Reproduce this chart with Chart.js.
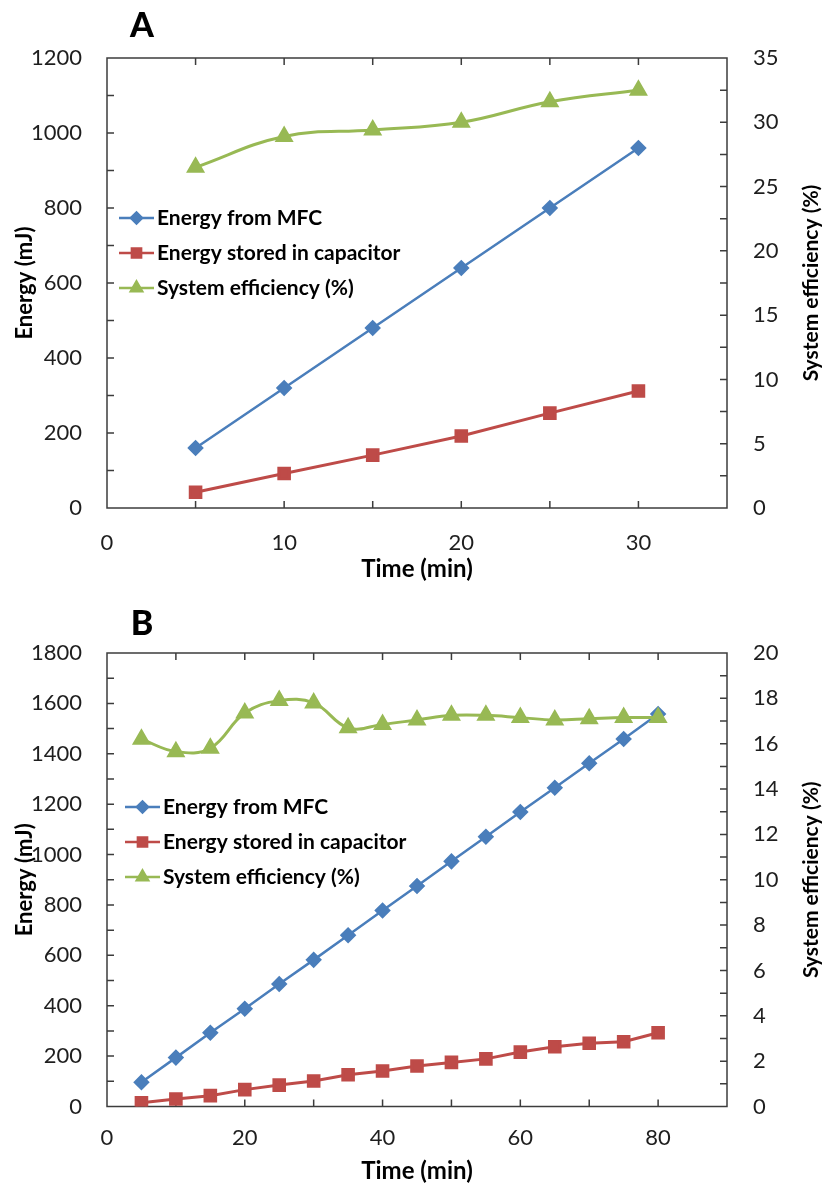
<!DOCTYPE html>
<html>
<head>
<meta charset="utf-8">
<script src="https://cdn.jsdelivr.net/npm/chart.js@4/dist/chart.umd.min.js"></script>
<style>
  html, body { margin: 0; padding: 0; background: #fff; }
  #wrap { position: relative; width: 825px; height: 1188px; overflow: hidden; }
  .panel { position: absolute; left: 0; width: 825px; height: 594px; }
  .panel canvas { display: block; }
  .tag { position: absolute; font: 900 34px Lato, "Liberation Sans", sans-serif; color: #000;
         transform: translate(-50%, -50%); line-height: 1; }
</style>
</head>
<body>
<div id="wrap">
  <div class="panel" style="top:0"><canvas id="chartA" width="825" height="594"></canvas></div>
  <div class="panel" style="top:594px"><canvas id="chartB" width="825" height="594"></canvas></div>
  <div class="tag" style="left:142px;top:24px">A</div>
  <div class="tag" style="left:142px;top:622px">B</div>
</div>
<script>
// ---- Series names ----
const seriesNames = ['Energy from MFC', 'Energy stored in capacitor', 'System efficiency (%)'];

// ---- Panel A: 0-30 min run ----
const timeA = [5, 10, 15, 20, 25, 30];
const mfcA  = [160, 320, 480, 640, 800, 960];
const capA  = [42, 92, 141, 192, 253, 312];
const effA  = [26.5, 28.9, 29.4, 30.0, 31.6, 32.5];

// ---- Panel B: 0-80 min run ----
const timeB = [5, 10, 15, 20, 25, 30, 35, 40, 45, 50, 55, 60, 65, 70, 75, 80];
const mfcB  = [96, 194, 293, 388, 486, 582, 680, 778, 875, 973, 1071, 1169, 1265, 1362, 1459, 1558];
const capB  = [15, 30, 43, 67, 85, 101, 126, 141, 161, 175, 189, 216, 237, 251, 257, 293];
const effB  = [16.2, 15.65, 15.8, 17.35, 17.9, 17.8, 16.7, 16.85, 17.05, 17.25, 17.25, 17.15, 17.05, 17.1, 17.15, 17.15];

// ---- Axis ranges / tick steps ----
const axisA = { xMax: 35, xLabelStep: 10, xMarkStep: 5,  yMax: 1200, yLabelStep: 200, yMarkStep: 100, rMax: 35, rLabelStep: 5, rMarkStep: 2.5 };
const axisB = { xMax: 90, xLabelStep: 20, xMarkStep: 10, yMax: 1800, yLabelStep: 200, yMarkStep: 100, rMax: 20, rLabelStep: 2, rMarkStep: 1 };

const BLUE = '#4A7EBB', RED = '#BE4B48', GREEN = '#98B954';
const AXIS_COLOR = '#3c3c3c', TEXT = '#1e1e1e';
const FONT = 'Lato, "Open Sans", "Liberation Sans", sans-serif';
Chart.defaults.font.family = FONT;
Chart.defaults.color = TEXT;

const pts = (xs, ys) => xs.map((x, i) => ({ x, y: ys[i] }));

// Plot frame with short tick marks pointing into the plot on all four sides
const frameTicks = {
  id: 'frameTicks',
  beforeDatasetsDraw(chart, args, o) {
    const { ctx, chartArea: a, scales } = chart;
    const len = 7;
    ctx.save();
    ctx.strokeStyle = AXIS_COLOR;
    ctx.lineWidth = 1.5;
    ctx.beginPath();
    for (let v = o.xMarkStep; v < scales.x.max - 1e-6; v += o.xMarkStep) {
      const px = scales.x.getPixelForValue(v);
      ctx.moveTo(px, a.bottom); ctx.lineTo(px, a.bottom - len);
      ctx.moveTo(px, a.top);    ctx.lineTo(px, a.top + len);
    }
    for (let v = o.yMarkStep; v < scales.y.max - 1e-6; v += o.yMarkStep) {
      const py = scales.y.getPixelForValue(v);
      ctx.moveTo(a.left, py); ctx.lineTo(a.left + len, py);
    }
    for (let v = o.rMarkStep; v < scales.y2.max - 1e-6; v += o.rMarkStep) {
      const py = scales.y2.getPixelForValue(v);
      ctx.moveTo(a.right, py); ctx.lineTo(a.right - len, py);
    }
    ctx.stroke();
    ctx.strokeRect(a.left, a.top, a.right - a.left, a.bottom - a.top);
    ctx.restore();
  }
};

// Secondary axis title, read bottom-to-top like the primary one
const rightTitle = {
  id: 'rightTitle',
  afterDraw(chart, args, o) {
    const { ctx, chartArea: a } = chart;
    ctx.save();
    ctx.translate(o.x, (a.top + a.bottom) / 2 + o.dy);
    ctx.rotate(-Math.PI / 2);
    ctx.font = 'bold ' + o.size + 'px ' + FONT;
    ctx.fillStyle = '#000';
    ctx.textAlign = 'center';
    ctx.textBaseline = 'middle';
    ctx.fillText(o.text, 0, 0);
    ctx.restore();
  }
};

// Legend box placed inside the plot area
const innerLegend = {
  id: 'innerLegend',
  afterDraw(chart, args, o) {
    const { ctx } = chart;
    ctx.save();
    chart.data.datasets.forEach((ds, i) => {
      const y = o.y + i * o.dy;
      ctx.strokeStyle = ds.borderColor;
      ctx.lineWidth = 2.5;
      ctx.beginPath();
      ctx.moveTo(o.x, y); ctx.lineTo(o.x + o.len, y);
      ctx.stroke();
      ctx.fillStyle = ds.backgroundColor;
      ctx.strokeStyle = ds.borderColor;
      Chart.helpers.drawPoint(ctx, { pointStyle: ds.pointStyle, radius: ds.legendRadius, rotation: 0, borderWidth: 1 },
        o.x + o.len / 2, y);
      ctx.fillStyle = '#000';
      ctx.font = 'bold ' + o.size + 'px ' + FONT;
      ctx.textAlign = 'left';
      ctx.textBaseline = 'middle';
      ctx.fillText(ds.label, o.x + o.len + 3, y);
    });
    ctx.restore();
  }
};

function makeChart(id, t, mfc, cap, eff, ax, lay) {
  const tickFont = { size: 22 };
  return new Chart(document.getElementById(id), {
    type: 'line',
    data: {
      datasets: [
        { label: seriesNames[0], data: pts(t, mfc), yAxisID: 'y', borderColor: BLUE, backgroundColor: BLUE,
          borderWidth: 2.5, pointStyle: 'rectRot', pointRadius: 6.5, legendRadius: 5.5, tension: 0, order: 2 },
        { label: seriesNames[1], data: pts(t, cap), yAxisID: 'y', borderColor: RED, backgroundColor: RED,
          borderWidth: 3, pointStyle: 'rect', pointRadius: 7.5, legendRadius: 6.5, tension: 0, order: 1 },
        { label: seriesNames[2], data: pts(t, eff), yAxisID: 'y2', borderColor: GREEN, backgroundColor: GREEN,
          borderWidth: 3, pointStyle: 'triangle', pointRadius: 8, legendRadius: 6.5, tension: 0.4, order: 0 }
      ]
    },
    options: {
      responsive: false,
      animation: false,
      devicePixelRatio: 1,
      layout: { padding: { top: lay.top, left: 0, right: 0, bottom: 0 } },
      plugins: {
        legend: { display: false },
        tooltip: { enabled: false },
        frameTicks: ax,
        rightTitle: { text: seriesNames[2], x: 811, dy: 0, size: 21 },
        innerLegend: { x: lay.legX, y: lay.legY, dy: 35, len: 35, size: 21 }
      },
      scales: {
        x: {
          type: 'linear', min: 0, max: ax.xMax,
          grid: { display: false, drawTicks: false }, border: { display: false },
          ticks: { stepSize: ax.xLabelStep, includeBounds: false, padding: lay.xPad, font: tickFont, color: TEXT,
                   maxRotation: 0, autoSkip: false, callback: v => String(v) },
          title: { display: true, text: 'Time (min)', font: { size: 24, weight: 'bold' }, color: '#000',
                   padding: { top: 0, bottom: lay.xTitlePad } },
          afterFit: s => { s.height = lay.xH; }
        },
        y: {
          position: 'left', min: 0, max: ax.yMax,
          grid: { display: false, drawTicks: false }, border: { display: false },
          ticks: { stepSize: ax.yLabelStep, padding: 25, font: tickFont, color: TEXT, callback: v => String(v) },
          title: { display: true, text: 'Energy (mJ)', font: { size: 22, weight: 'bold' }, color: '#000',
                   padding: { top: 12, bottom: 0 } },
          afterFit: s => { s.width = 107; }
        },
        y2: {
          position: 'right', min: 0, max: ax.rMax,
          grid: { display: false, drawTicks: false }, border: { display: false },
          ticks: { stepSize: ax.rLabelStep, padding: 26, font: tickFont, color: TEXT, callback: v => String(v) },
          title: { display: false },
          afterFit: s => { s.width = 98; }
        }
      }
    },
    plugins: [frameTicks, rightTitle, innerLegend]
  });
}

makeChart('chartA', timeA, mfcA, capA, effA, axisA,
  { top: 58, xH: 86, xPad: 22, xTitlePad: 10, legX: 119, legY: 218 });
makeChart('chartB', timeB, mfcB, capB, effB, axisB,
  { top: 59, xH: 81.5, xPad: 18, xTitlePad: 2, legX: 125, legY: 213 });
</script>
</body>
</html>
